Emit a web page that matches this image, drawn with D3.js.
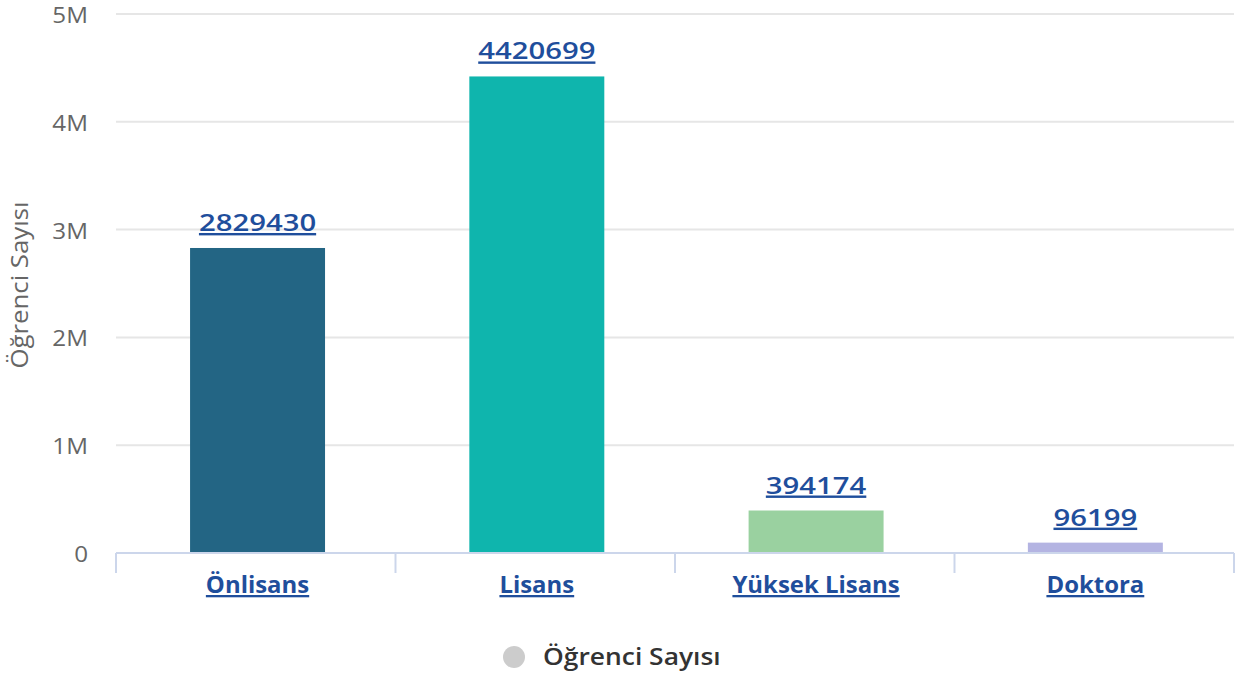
<!DOCTYPE html>
<html><head><meta charset="utf-8">
<script src="https://cdn.jsdelivr.net/npm/d3@7"></script>
<style>body{margin:0;background:#fff;} text{font-family:"Open Sans",sans-serif;}</style>
</head><body>
<svg id="c" width="1236" height="677"></svg>
<script>
const categories = ["Önlisans","Lisans","Yüksek Lisans","Doktora"];
const values = [2829430,4420699,394174,96199];
const colors = ["#236584","#0fb5ad","#9ad1a0","#b4b4e2"];
const yTicks = [0,1000000,2000000,3000000,4000000,5000000];
const yTickLabels = ["0","1M","2M","3M","4M","5M"];
const seriesName = "Öğrenci Sayısı";

const svg = d3.select("#c");
const L=116,R=1234,T=14,B=553;
const x = d3.scaleBand().domain(categories).range([L,R]).paddingInner(0.5167).paddingOuter(0.26).align(0.51);
const y = d3.scaleLinear().domain([0,5000000]).range([B,T]);

function stretch(sel,f){
  sel.each(function(){const w=this.getComputedTextLength();
    d3.select(this).attr("textLength",w*f).attr("lengthAdjust","spacingAndGlyphs");});
}

// grid
svg.append("g").selectAll("line").data(yTicks.slice(1)).join("line")
 .attr("x1",L).attr("x2",R).attr("y1",d=>y(d)).attr("y2",d=>y(d))
 .attr("stroke","#e6e6e6").attr("stroke-width",2);

// y labels
svg.append("g").selectAll("text").data(yTicks).join("text")
 .attr("x",88).attr("y",d=>y(d)+9).attr("text-anchor","end")
 .attr("font-size",22).attr("fill","#666").text((d,i)=>yTickLabels[i])
 .call(stretch,1.1);

// y title
svg.append("text").attr("transform",`translate(28,285) rotate(-90)`)
 .attr("text-anchor","middle").attr("font-size",23).attr("fill","#666").text(seriesName)
 .call(stretch,1.12);

// bars
svg.append("g").selectAll("rect").data(values).join("rect")
 .attr("x",(d,i)=>x(categories[i])).attr("width",x.bandwidth())
 .attr("y",d=>y(d)).attr("height",d=>B-y(d)).attr("fill",(d,i)=>colors[i]);

// x axis
const step = (R-L)/categories.length;
const bounds = d3.range(categories.length+1).map(i=>L+i*step);
svg.append("line").attr("x1",L).attr("x2",R).attr("y1",B).attr("y2",B).attr("stroke","#ccd6eb").attr("stroke-width",2);
svg.append("g").selectAll("line").data(bounds).join("line")
 .attr("x1",d=>d).attr("x2",d=>d).attr("y1",B).attr("y2",B+20).attr("stroke","#ccd6eb").attr("stroke-width",2);

// category labels
svg.append("g").selectAll("text").data(categories).join("text")
 .attr("x",d=>x(d)+x.bandwidth()/2).attr("y",593).attr("text-anchor","middle")
 .attr("font-size",23).attr("font-weight","bold").attr("fill","#1f4e9c")
 .attr("text-decoration","underline").text(d=>d)
 .call(stretch,1.04);

// data labels
svg.append("g").selectAll("text").data(values).join("text")
 .attr("x",(d,i)=>x(categories[i])+x.bandwidth()/2).attr("y",d=>y(d)-17).attr("text-anchor","middle")
 .attr("font-size",24).attr("font-weight",600).attr("fill","#1f4e9c")
 .attr("text-decoration","underline").text(d=>d)
 .call(stretch,1.22);

// legend
svg.append("circle").attr("cx",514).attr("cy",657).attr("r",11).attr("fill","#cccccc");
svg.append("text").attr("x",543).attr("y",665).attr("font-size",24).attr("font-weight",600).attr("fill","#333").text(seriesName)
 .call(stretch,1.1);
</script>
</body></html>
